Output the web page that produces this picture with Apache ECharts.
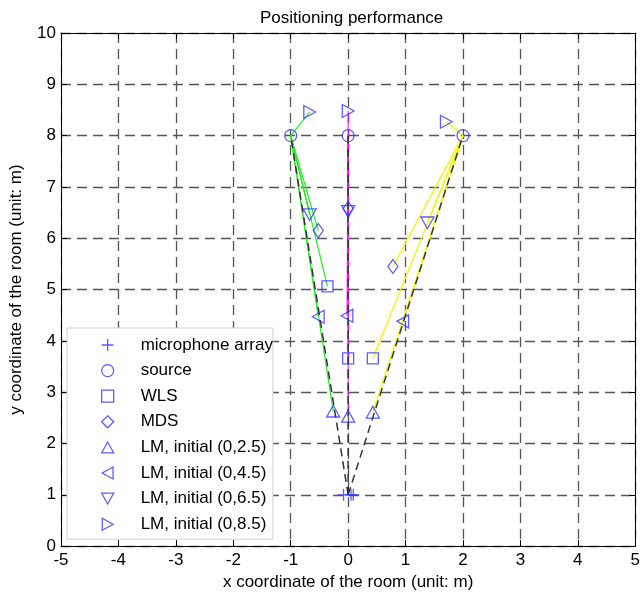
<!DOCTYPE html>
<html>
<head>
<meta charset="utf-8">
<script src="https://cdn.jsdelivr.net/npm/echarts@6/dist/echarts.min.js"></script>
<style>html,body{margin:0;padding:0;background:#fff;}#chart{width:643px;height:596px;}</style>
</head>
<body>
<div id="chart"></div>
<script>
// ---- data ----
const xTicks = [-5,-4,-3,-2,-1,0,1,2,3,4,5];
const yTicks = [0,1,2,3,4,5,6,7,8,9,10];
const micArray = [[-0.08,1],[0.05,1],[0.09,1]];
const micCenter = [0,1];
const sources = [[-1,8],[0,8],[2,8]];
const wls  = [[-0.36,5.06],[0,3.66],[0.43,3.66]];
const mds  = [[-0.52,6.15],[0,6.58],[0.78,5.45]];
const lm25 = [[-0.26,2.63],[0,2.53],[0.43,2.61]];
const lm45 = [[-0.52,4.47],[-0.02,4.49],[0.95,4.38]];
const lm65 = [[-0.67,6.46],[0,6.52],[1.38,6.30]];
const lm85 = [[-0.67,8.46],[0,8.48],[1.71,8.27]];
const legendNames = ['microphone array','source','WLS','MDS','LM, initial (0,2.5)','LM, initial (0,4.5)','LM, initial (0,6.5)','LM, initial (0,8.5)'];

// ---- styling ----
const BLUE = '#3535ff';
const lineColors = ['#22ee22','#ff00ff','#f5f500'];
const lineWidths = [1.2, 1, 1.3];
const FONT = 'Liberation Sans, Arial, sans-serif';
const symPlus = 'path://M5,0L5,10M0,5L10,5';
const symTriUp = 'path://M5,0L10,9L0,9Z';
const symTriDown = 'path://M0,0L10,0L5,9Z';
const symTriLeft = 'path://M9,0L9,10L0,5Z';
const symTriRight = 'path://M0,0L9,5L0,10Z';

const markerStyle = {color:'transparent', borderColor: BLUE, borderWidth: 1.3};
const estimates = [wls, mds, lm25, lm45, lm65, lm85];

const series = [];
// colored lines from each source to its estimates
sources.forEach((s, i) => {
  estimates.forEach(est => {
    series.push({
      type:'line', data:[s, est[i]], symbol:'none', silent:true, z:2,
      lineStyle:{color: lineColors[i], width:lineWidths[i]}, animation:false
    });
  });
});
// dashed black lines from microphone array to sources
sources.forEach(s => {
  series.push({
    type:'line', data:[micCenter, s], symbol:'none', silent:true, z:3,
    lineStyle:{color:'#333', width:1.5, type:[8,5]}, animation:false
  });
});
const scatterDefs = [
  [legendNames[0], micArray, symPlus, 12],
  [legendNames[1], sources, 'circle', 12],
  [legendNames[2], wls, 'rect', 11],
  [legendNames[3], mds, 'diamond', [10,14]],
  [legendNames[4], lm25, symTriUp, 13],
  [legendNames[5], lm45, symTriLeft, 13],
  [legendNames[6], lm65, symTriDown, 13],
  [legendNames[7], lm85, symTriRight, 13]
];
scatterDefs.forEach(d => {
  series.push({
    name:d[0], type:'scatter', data:d[1], symbol:d[2], symbolSize:d[3],
    symbolKeepAspect:true, itemStyle: markerStyle, z:5, animation:false
  });
});

const axisCommon = {
  type:'value', interval:1,
  axisLine:{show:true, onZero:false, lineStyle:{color:'#000', width:1}},
  axisTick:{show:true, inside:true, length:6, lineStyle:{color:'#000'}},
};

const option = {
  backgroundColor:'#fff',
  animation:false,
  title:{text:'Positioning performance', left:255, top:5,
    textStyle:{fontFamily:FONT, fontSize:17, fontWeight:'normal', color:'#000'}},
  grid:{left:58, right:5, top:33, bottom:49, containLabel:false},
  xAxis:[
    Object.assign({}, axisCommon, {
      min:-5, max:5, position:'bottom',
      name:'x coordinate of the room (unit: m)', nameLocation:'middle', nameGap:22,
      nameTextStyle:{fontFamily:FONT, fontSize:17, color:'#000'},
      axisLabel:{fontFamily:FONT, fontSize:17, color:'#000', margin:6,
        formatter: v => xTicks.includes(v) ? String(v) : ''},
      splitLine:{show:true, lineStyle:{color:'#555', width:1.3, type:[10,6]}}
    }),
    Object.assign({}, axisCommon, {
      min:-5, max:5, position:'top', axisLabel:{show:false}, splitLine:{show:false}
    })
  ],
  yAxis:[
    Object.assign({}, axisCommon, {
      min:0, max:10, position:'left',
      name:'y coordinate of the room (unit: m)', nameLocation:'middle', nameGap:36,
      nameTextStyle:{fontFamily:FONT, fontSize:17, color:'#000'},
      axisLabel:{fontFamily:FONT, fontSize:17, color:'#000', margin:5,
        formatter: v => yTicks.includes(v) ? String(v) : ''},
      splitLine:{show:true, lineStyle:{color:'#555', width:1.3, type:[10,6]}}
    }),
    Object.assign({}, axisCommon, {
      min:0, max:10, position:'right', axisLabel:{show:false}, splitLine:{show:false}
    })
  ],
  legend:{
    orient:'vertical', left:67, top:328,
    data: legendNames,
    backgroundColor:'#fff', borderColor:'#cfcfcf', borderWidth:1,
    padding:[8,0,6,34],
    itemWidth:12, itemHeight:12, itemGap:7.6,
    itemStyle:{color:'transparent', borderColor:BLUE, borderWidth:1.3},
    textStyle:{fontFamily:FONT, fontSize:17, color:'#000', lineHeight:18, padding:[0,0,0,22]},
    selectedMode:false
  },
  series: series
};

const chart = echarts.init(document.getElementById('chart'), null, {renderer:'canvas'});
chart.setOption(option);
</script>
</body>
</html>
